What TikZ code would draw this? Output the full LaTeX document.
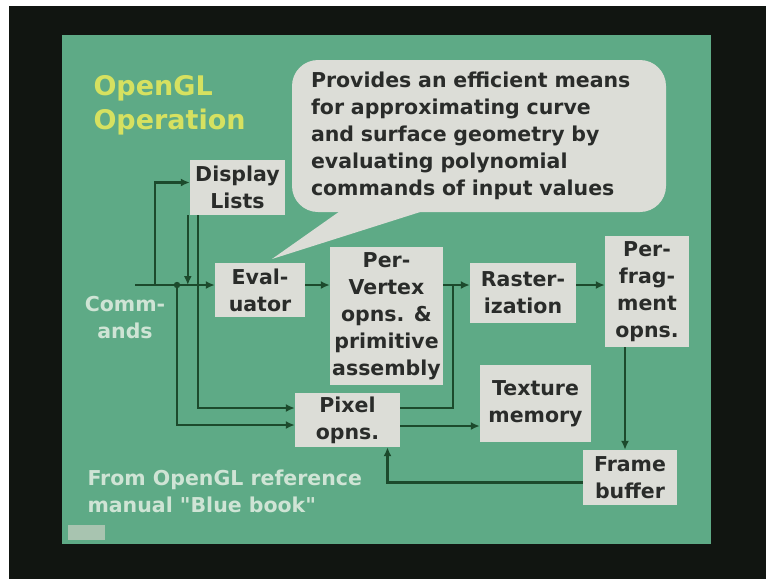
\documentclass[tikz,border=0pt]{standalone}
\usepackage{fontspec}
\setmainfont{DejaVu Sans}
\newfontfamily\qfont{DejaVu Sans}
\usepackage{tikz}
\usetikzlibrary{arrows.meta,positioning,calc}
\definecolor{slide}{HTML}{5EAA86}
\definecolor{bezel}{HTML}{111511}
\definecolor{boxgray}{HTML}{DCDDD7}
\definecolor{ink}{HTML}{2A2C2A}
\definecolor{wire}{HTML}{1C4A2C}
\definecolor{headyellow}{HTML}{D6E160}
\definecolor{pale}{HTML}{CFE4D5}
\definecolor{logo}{HTML}{A8C4B0}
\newcommand{\sq}{{\qfont\bfseries"}}
\tikzset{
  >={Latex[length=9pt,width=8pt]},
  every node/.append style={font=\fontsize{20.5}{27}\selectfont\bfseries},
}
\tikzset{
  blk/.style={fill=boxgray, text=ink, align=center, inner sep=0pt},
  conn/.style={->, draw=wire, line width=2.6pt},
  plain/.style={draw=wire, line width=2.6pt},
  note/.style={text=pale, align=left}
}
\begin{document}
\begin{tikzpicture}[x=1pt, y=-1pt]

% slide and frame
\useasboundingbox (0,0) rectangle (766,579);
\fill[white] (0,0) rectangle (766,579);
\fill[bezel] (9,6) rectangle (766,579);
\fill[slide] (62,35) rectangle (711,544);
\fill[logo] (68,525) rectangle (105,540);

% title
\node[anchor=west, text=headyellow, align=left, font=\fontsize{27}{34}\selectfont\bfseries] (head) at (90,105) {OpenGL\\Operation};

% speech bubble for the evaluator
\node[fill=boxgray, rounded corners=26pt, text=ink, text width=336pt, inner xsep=19pt,
      minimum height=152pt, align=left] (callout) at (479,136)
  {Provides an efficient means\\for approximating curve\\and surface geometry by\\evaluating polynomial\\commands of input values};
\coordinate (tip) at (272,259);
\fill[boxgray] ($(callout.south west)+(58,-8)$) -- (tip) -- ($(callout.south west)+(153,-8)$) -- cycle;

% pipeline blocks
\node[blk, minimum width=95pt, minimum height=55pt] (disp) at (237.5,187.5) {Display\\Lists};
\node[blk, minimum width=90pt, minimum height=54pt] (eval) at (260,290) {Eval-\\uator};
\node[blk, minimum width=113pt, minimum height=138pt] (vert) at (386.5,316) {Per-\\Vertex\\opns. \&\\primitive\\assembly};
\node[blk, minimum width=106pt, minimum height=60pt] (rast) at (523,293) {Raster-\\ization};
\node[blk, minimum width=84pt, minimum height=111pt] (frag) at (647,291.5) {Per-\\frag-\\ment\\opns.};
\node[blk, minimum width=111pt, minimum height=77pt] (tex) at (535.5,403.5) {Texture\\memory};
\node[blk, minimum width=105pt, minimum height=54pt] (pix) at (347.5,420) {Pixel\\opns.};
\node[blk, minimum width=94pt, minimum height=55pt] (fb) at (630,477.5) {Frame\\buffer};

% labels
\node[note, align=center] (cmds) at (125,318) {Comm-\\ands};
\node[note, anchor=west] (src) at (84,491.5) {From OpenGL reference\\manual \sq Blue book\sq};

% tap points
\coordinate (cmd) at (135,285);
\coordinate (dl) at (155,285);
\coordinate (px) at (177,285);
\coordinate (mrg) at (453,285);
\coordinate (dla) at ([xshift=-2pt]disp.south west);
\coordinate (dlb) at ([xshift=8pt]disp.south west);
\coordinate (frb) at ([xshift=-22pt]frag.south);

% connectors
\draw[conn] (cmd) -- (eval.west |- cmd);
\draw[conn] (dl) |- ([yshift=5pt]disp.west);
\draw[conn] (dla) -- (dla |- cmd);
\draw[conn] (dlb) |- ([yshift=12pt]pix.west);
\draw[conn] (px) |- ([yshift=-5pt]pix.west);
\fill[wire] (px) circle (3.2pt);
\draw[conn] (eval.east |- cmd) -- (vert.west |- cmd);
\draw[conn] (vert.east |- cmd) -- (rast.west |- cmd);
\draw[plain] ([yshift=12pt]pix.east) -| (mrg);
\draw[conn] (rast.east |- cmd) -- (frag.west |- cmd);
\draw[conn] (frb) -- (frb |- fb.north);
\draw[conn] ([yshift=-6pt]pix.east) -- ([yshift=-6pt]pix.east -| tex.west);
\draw[conn] ([yshift=-5pt]fb.west) -| ([xshift=40pt]pix.south);

\end{tikzpicture}
\end{document}
